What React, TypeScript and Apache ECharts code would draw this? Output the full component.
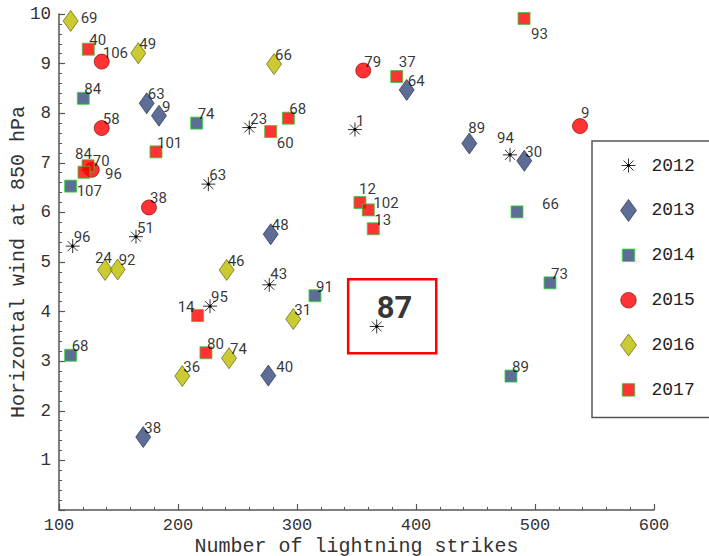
import React, { useEffect, useRef } from 'react';
import * as echarts from 'echarts';

// ---------- data ----------
const years = ['2012', '2013', '2014', '2015', '2016', '2017'];

const x2012 = [225.5, 164.7, 111.5, 226.9, 259.9, 348.7, 276.7, 367, 479];
const y2012 = [6.57, 5.51, 5.32, 4.11, 7.71, 7.67, 4.54, 3.7, 7.16];
const id2012 = ['63', '51', '96', '95', '23', '1', '43', '87', '94'];

const x2013 = [173.7, 184, 392.2, 277.9, 275.9, 170.8, 444.8, 491];
const y2013 = [8.2, 7.95, 8.47, 5.56, 2.71, 1.47, 7.39, 7.04];
const id2013 = ['63', '9', '64', '48', '40', '38', '89', '30'];

const x2014 = [120.4, 215.7, 109.8, 109.8, 315.1, 484.9, 512.6, 479.8];
const y2014 = [8.3, 7.8, 6.53, 3.12, 4.32, 6.01, 4.58, 2.7];
const id2014 = ['84', '74', '107', '68', '91', '66', '73', '89'];

const x2015 = [135.9, 135.9, 127.5, 175.6, 355.7, 537.8];
const y2015 = [9.04, 7.7, 6.86, 6.1, 8.86, 7.74];
const id2015 = ['106', '58', '70', '38', '79', '9'];

const x2016 = [109.8, 166.6, 138.7, 149.3, 240.9, 242.9, 203.6, 280.7, 296.9];
const y2016 = [9.86, 9.21, 4.84, 4.85, 4.84, 3.06, 2.7, 8.99, 3.85];
const id2016 = ['69', '49', '24', '92', '46', '74', '36', '66', '31'];

const x2017 = [124.6, 181.5, 124.4, 121, 216.5, 223.5, 383.8, 292.7, 277.9, 352.9, 359.9, 364.1, 490.8];
const y2017 = [9.29, 7.22, 6.94, 6.81, 3.92, 3.17, 8.74, 7.9, 7.63, 6.2, 6.05, 5.67, 9.91];
const id2017 = ['40', '101', '84', '96', '14', '80', '37', '68', '60', '12', '102', '13', '93'];

const highlightId = '87';
const highlightBoxX = [343, 417];
const highlightBoxY = [3.16, 4.65];

// ---------- label placement (layout, not data) ----------
const defaultLabelOffset = [1, -9];
const labelNudges: Record<string, number[]> = {
  '2016-69': [10, -3],
  '2017-84': [-13, -12],
  '2017-96': [21, 2],
  '2014-107': [6, 5],
  '2016-24': [-10, -12],
  '2017-14': [-20, -9],
  '2017-37': [2, -14],
  '2017-60': [6, 11],
  '2017-93': [7, 16],
  '2013-89': [-1, -15],
  '2012-94': [-13, -17],
  '2013-40': [8, -9],
  '2013-9': [3, -9],
  '2014-66': [25, -8],
  '2015-9': [1, -13],
  '2012-43': [1, -11],
  '2017-12': [-1, -13],
  '2017-102': [5, -7],
};

const MONO = '"Liberation Mono", "DejaVu Sans Mono", monospace';
const SANS = 'Roboto, "Liberation Sans", sans-serif';

const starSymbol = 'path://M7,0L7,14M0,7L14,7M2,2L12,12M2,12L12,2M7,5.5L8.5,7L7,8.5L5.5,7Z';
const anchor = 'M0,0L0,0M36,24L36,24';
const legendIcons: Record<string, string> = {
  star: 'path://' + anchor + 'M18,5L18,19M11,12L25,12M13,7L23,17M13,17L23,7M18,10.5L19.5,12L18,13.5L16.5,12Z',
  diamond: 'path://' + anchor + 'M18,1L26,12L18,23L10,12Z',
  square: 'path://' + anchor + 'M11.75,5.75L24.25,5.75L24.25,18.25L11.75,18.25Z',
  circle: 'path://' + anchor + 'M10.2,12A7.8,7.8,0,1,0,25.8,12A7.8,7.8,0,1,0,10.2,12Z',
};

const NAVY = '#34497b';
const styles: Record<string, any> = {
  '2012': { symbol: starSymbol, size: 14, icon: 'star', itemStyle: { color: '#000', borderColor: '#000', borderWidth: 1 } },
  '2013': { symbol: 'diamond', size: [15, 21], icon: 'diamond', itemStyle: { color: NAVY, borderColor: '#1b2744', borderWidth: 0.8 } },
  '2014': { symbol: 'rect', size: 12, icon: 'square', itemStyle: { color: NAVY, borderColor: '#33dd33', borderWidth: 1 } },
  '2015': { symbol: 'circle', size: 15, icon: 'circle', itemStyle: { color: '#ff0000', borderColor: '#7a0000', borderWidth: 0.8 } },
  '2016': { symbol: 'diamond', size: [15, 21], icon: 'diamond', itemStyle: { color: '#bdbd00', borderColor: '#555500', borderWidth: 0.8 } },
  '2017': { symbol: 'rect', size: 12, icon: 'square', itemStyle: { color: '#ff0000', borderColor: '#33cc33', borderWidth: 1 } },
};

const seriesData: Record<string, [number[], number[], string[]]> = {
  '2012': [x2012, y2012, id2012],
  '2013': [x2013, y2013, id2013],
  '2014': [x2014, y2014, id2014],
  '2015': [x2015, y2015, id2015],
  '2016': [x2016, y2016, id2016],
  '2017': [x2017, y2017, id2017],
};

function buildData(year: string) {
  const [xs, ys, ids] = seriesData[year];
  return xs.map((x, i) => {
    const item: any = { value: [x, ys[i]], name: ids[i] };
    const key = `${year}-${ids[i]}`;
    if (year === '2012' && ids[i] === highlightId) {
      item.label = { offset: [0, -19], fontSize: 31, fontWeight: 'bold' };
    } else if (labelNudges[key]) {
      item.label = { offset: labelNudges[key] };
    }
    return item;
  });
}

export default function App() {
  const ref = useRef<HTMLDivElement>(null);
  useEffect(() => {
    if (!ref.current) return;
    const chart = echarts.init(ref.current, undefined, { renderer: 'svg' });
    const series = years.map((year) => {
      const st = styles[year];
      const s: any = {
        name: year,
        type: 'scatter',
        symbol: st.symbol,
        symbolSize: st.size,
        itemStyle: st.itemStyle,
        data: buildData(year),
        emphasis: { disabled: true },
        label: {
          show: true,
          formatter: '{b}',
          position: 'inside',
          align: 'left',
          verticalAlign: 'middle',
          offset: defaultLabelOffset,
          fontFamily: SANS,
          fontSize: 15,
          color: '#000',
          textBorderWidth: 0,
          textBorderColor: 'transparent',
        },
      };
      if (year === '2012') {
        s.markArea = {
          silent: true,
          label: { show: false },
          itemStyle: { color: 'rgba(0,0,0,0)', borderColor: '#ff0000', borderWidth: 2.5 },
          data: [[{ coord: [highlightBoxX[0], highlightBoxY[1]] }, { coord: [highlightBoxX[1], highlightBoxY[0]] }]],
        };
      }
      return s;
    });

    chart.setOption({
      animation: false,
      backgroundColor: '#fff',
      grid: { left: 59, right: 55, top: 14, bottom: 46, containLabel: false, outerBoundsMode: 'none' },
      xAxis: {
        type: 'value',
        min: 100,
        max: 600,
        interval: 100,
        name: 'Number of lightning strikes',
        nameLocation: 'middle',
        nameGap: 26,
        nameMoveOverlap: false,
        nameTextStyle: { fontFamily: MONO, fontSize: 20, color: '#333', lineHeight: 20 },
        axisLine: { show: true, lineStyle: { color: '#555', width: 1.5 } },
        axisTick: { show: true, inside: true, length: 6, lineStyle: { color: '#555', width: 1.2 } },
        minorTick: { show: true, splitNumber: 5, length: 3, lineStyle: { color: '#555', width: 1 } },
        splitLine: { show: false },
        axisLabel: { fontFamily: MONO, fontSize: 17, color: '#333', margin: 6, lineHeight: 18 },
      },
      yAxis: {
        type: 'value',
        min: 0,
        max: 10,
        interval: 1,
        name: 'Horizontal wind at 850 hPa',
        nameLocation: 'middle',
        nameGap: 31,
        nameMoveOverlap: false,
        nameTextStyle: { fontFamily: MONO, fontSize: 20, color: '#333' },
        axisLine: { show: true, lineStyle: { color: '#555', width: 1.5 } },
        axisTick: { show: true, inside: true, length: 6, lineStyle: { color: '#555', width: 1.2 } },
        minorTick: { show: true, splitNumber: 5, length: 3, lineStyle: { color: '#555', width: 1 } },
        splitLine: { show: false },
        axisLabel: { fontFamily: MONO, fontSize: 17.5, color: '#333', margin: 8, showMinLabel: false },
      },
      legend: {
        orient: 'vertical',
        left: 592,
        top: 141,
        itemWidth: 36,
        itemHeight: 24,
        itemGap: 20,
        padding: [12, 20, 15, 18],
        borderColor: '#555',
        borderWidth: 1.5,
        selectedMode: false,
        textStyle: { fontFamily: MONO, fontSize: 18, color: '#222' },
        data: years.map((year) => ({
          name: year,
          icon: legendIcons[styles[year].icon],
          itemStyle: styles[year].itemStyle,
        })),
      },
      series,
    });
    return () => chart.dispose();
  }, []);
  return (
    <div
      ref={ref}
      style={{ position: 'fixed', left: 0, top: 0, width: 709, height: 556, background: '#fff' }}
    />
  );
}
